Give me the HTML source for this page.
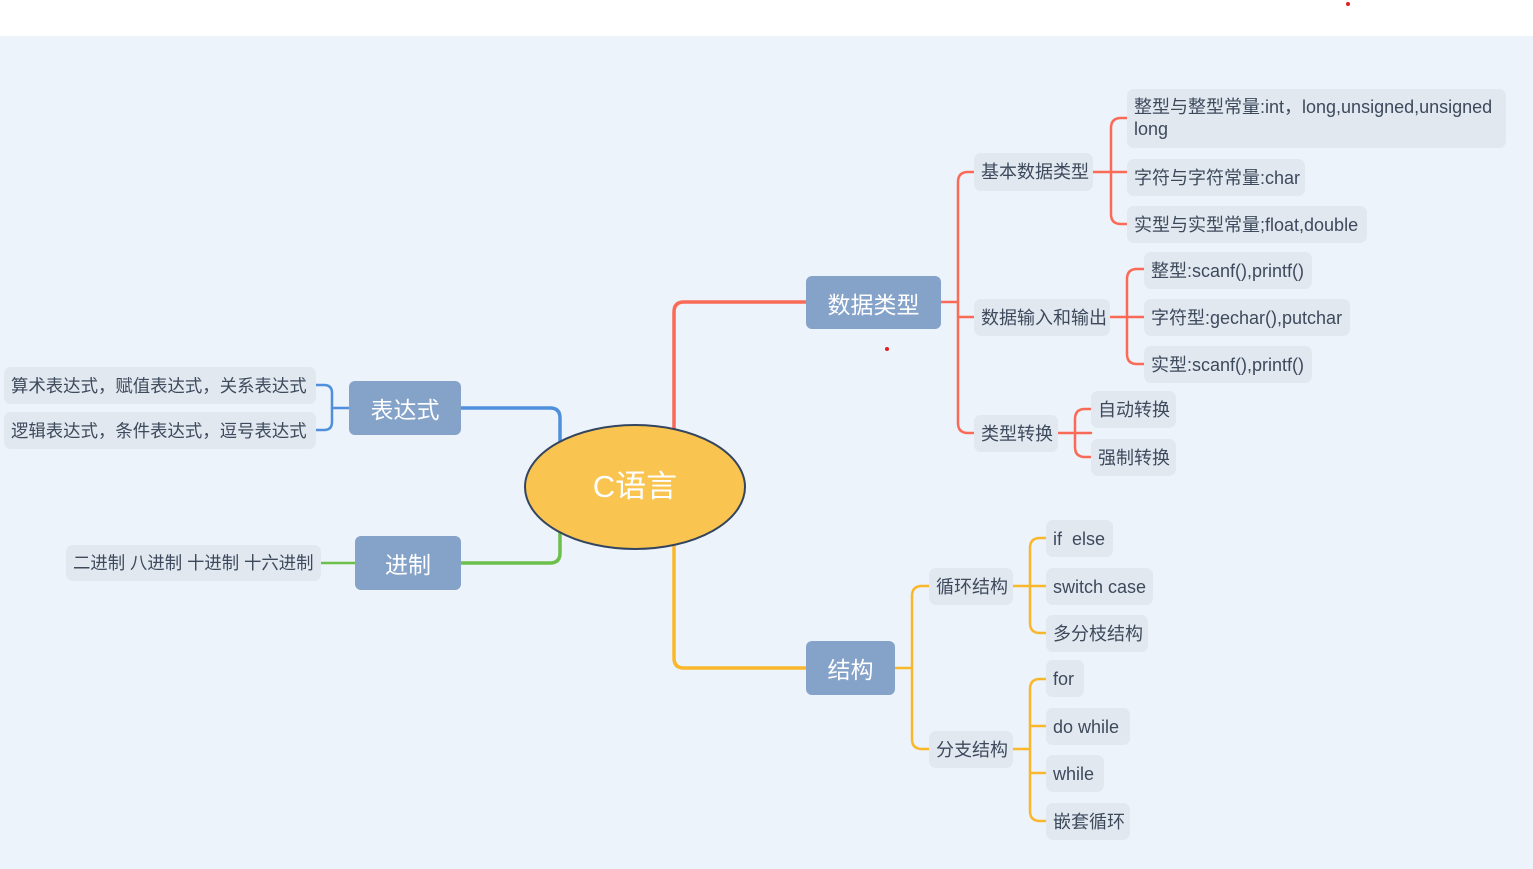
<!DOCTYPE html>
<html><head><meta charset="utf-8"><style>
body{margin:0;width:1533px;height:869px;background:#fff;position:relative;overflow:hidden;font-family:"Liberation Sans","Noto Sans CJK SC",sans-serif}
#bg{position:absolute;left:0;top:36px;width:1533px;height:833px;background:#edf3fa}
.l{position:absolute;background:#e2e8f0;border-radius:7px;color:#3d4a5c;font-size:18px;line-height:22px;padding:0 7px;box-sizing:border-box;display:flex;align-items:center;white-space:nowrap;overflow:hidden}
.m{position:absolute;background:#85a2c9;border-radius:6px;color:#fff;font-size:23px;display:flex;align-items:center;justify-content:center}
svg{position:absolute;left:0;top:0}
</style></head><body>
<div id="bg"></div>
<svg width="1533" height="869" fill="none" stroke-linecap="round">
<g stroke="#f96b57" stroke-width="3.5">
<path d="M674 428 V312 Q674 302 684 302 H806"/>
</g>
<g stroke="#f96b57" stroke-width="2.5">
<path d="M941 302 H958 M958 182 Q958 172 968 172 H974 M958 423 Q958 433 968 433 H974 M958 182 V423 M958 317 H974"/>
<path d="M1093 172 H1127 M1111 128 Q1111 118 1121 118 H1127 M1111 214 Q1111 224 1121 224 H1127 M1111 128 V214"/>
<path d="M1110 317 H1144 M1127 279 Q1127 269 1137 269 H1144 M1127 354 Q1127 364 1137 364 H1144 M1127 279 V354"/>
<path d="M1058 433 H1091 M1075 419 Q1075 409 1085 409 H1091 M1075 447 Q1075 457 1085 457 H1091 M1075 419 V447"/>
</g>
<g stroke="#fbb72b" stroke-width="3.5"><path d="M674 546 V658 Q674 668 684 668 H806"/></g>
<g stroke="#fbb72b" stroke-width="2.5">
<path d="M895 668 H912 M912 596 Q912 586 922 586 H929 M912 739 Q912 749 922 749 H929 M912 596 V739"/>
<path d="M1013 586 H1046 M1030 548 Q1030 538 1040 538 H1046 M1030 623 Q1030 633 1040 633 H1046 M1030 548 V623"/>
<path d="M1013 749 H1030 M1030 689 Q1030 679 1040 679 H1046 M1030 811 Q1030 821 1040 821 H1046 M1030 689 V811 M1030 726 H1046 M1030 773 H1046"/>
</g>
<g stroke="#4f8fdb" stroke-width="3.5"><path d="M461 408 H550 Q560 408 560 418 V442"/></g>
<g stroke="#4f8fdb" stroke-width="2.5"><path d="M349 408 H332 M316 385 H324 Q332 385 332 393 V422 Q332 430 324 430 H316"/></g>
<g stroke="#6cc04a" stroke-width="3.5"><path d="M461 563 H550 Q560 563 560 553 V532"/></g>
<g stroke="#6cc04a" stroke-width="2.5"><path d="M321 563 H355"/></g>
<ellipse cx="635" cy="487" rx="110" ry="62" fill="#f9c450" stroke="#344560" stroke-width="2"/>
<g fill="#e02020" stroke="none"><circle cx="1348" cy="4" r="2"/><circle cx="887" cy="349" r="2"/><circle cx="1236" cy="226" r="2"/></g>
</svg>
<div style="position:absolute;left:525px;top:465px;width:220px;text-align:center;color:#fff;font-size:31px;line-height:44px">C语言</div>
<div class="m" style="left:806px;top:276px;width:135px;height:53px">数据类型</div>
<div class="m" style="left:806px;top:641px;width:89px;height:54px">结构</div>
<div class="m" style="left:349px;top:381px;width:112px;height:54px">表达式</div>
<div class="m" style="left:355px;top:536px;width:106px;height:54px">进制</div>
<div class="l" style="left:974px;top:153px;width:119px;height:38px">基本数据类型</div>
<div class="l" style="left:974px;top:299px;width:136px;height:37px">数据输入和输出</div>
<div class="l" style="left:974px;top:415px;width:84px;height:37px">类型转换</div>
<div class="l" style="left:1127px;top:89px;width:379px;height:59px;white-space:normal;align-items:flex-start;padding-top:7px">整型与整型常量:int，long,unsigned,unsigned long</div>
<div class="l" style="left:1127px;top:159px;width:178px;height:37px">字符与字符常量:char</div>
<div class="l" style="left:1127px;top:206px;width:240px;height:37px">实型与实型常量;float,double</div>
<div class="l" style="left:1144px;top:252px;width:168px;height:37px">整型:scanf(),printf()</div>
<div class="l" style="left:1144px;top:299px;width:206px;height:37px">字符型:gechar(),putchar</div>
<div class="l" style="left:1144px;top:346px;width:168px;height:37px">实型:scanf(),printf()</div>
<div class="l" style="left:1091px;top:391px;width:85px;height:37px">自动转换</div>
<div class="l" style="left:1091px;top:439px;width:85px;height:37px">强制转换</div>
<div class="l" style="left:929px;top:568px;width:84px;height:37px">循环结构</div>
<div class="l" style="left:929px;top:731px;width:84px;height:37px">分支结构</div>
<div class="l" style="left:1046px;top:520px;width:67px;height:37px">if&nbsp; else</div>
<div class="l" style="left:1046px;top:568px;width:107px;height:37px">switch case</div>
<div class="l" style="left:1046px;top:615px;width:102px;height:37px">多分枝结构</div>
<div class="l" style="left:1046px;top:660px;width:38px;height:37px">for</div>
<div class="l" style="left:1046px;top:708px;width:84px;height:37px">do while</div>
<div class="l" style="left:1046px;top:755px;width:58px;height:37px">while</div>
<div class="l" style="left:1046px;top:803px;width:84px;height:37px">嵌套循环</div>
<div class="l" style="left:4px;top:367px;width:312px;height:37px;font-size:17.4px">算术表达式，赋值表达式，关系表达式</div>
<div class="l" style="left:4px;top:412px;width:312px;height:37px;font-size:17.4px">逻辑表达式，条件表达式，逗号表达式</div>
<div class="l" style="left:66px;top:545px;width:255px;height:36px;font-size:17.4px">二进制 八进制 十进制 十六进制</div>
</body></html>
